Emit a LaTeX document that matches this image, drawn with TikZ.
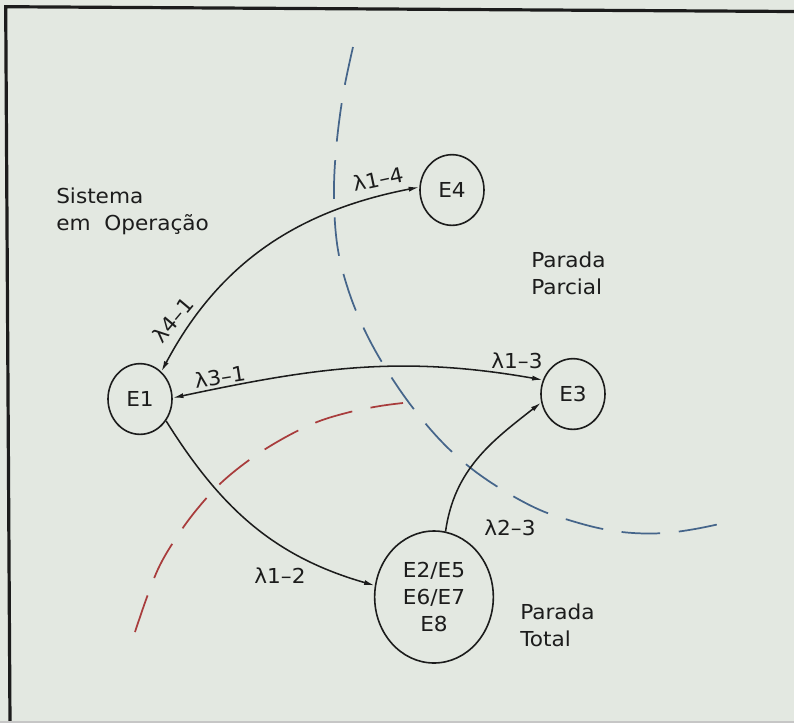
\documentclass[tikz,border=0pt]{standalone}
\usepackage{fontspec}
\setmainfont{DejaVu Sans}[FakeStretch=1.05]
\usepackage{tikz}
\usetikzlibrary{arrows.meta, shapes.geometric}
\definecolor{paper}{HTML}{E3E8E1}
\definecolor{ink}{HTML}{1C1C1C}
\definecolor{bblue}{HTML}{45658A}
\definecolor{bred}{HTML}{A83C3C}
\newcommand\figfont{\fontsize{15.5}{20.5}\selectfont}
\tikzset{
  x=0.75bp, y=0.75bp,
  font=\figfont,
  state/.style={
    draw=ink, line width=1.2bp, shape=ellipse, inner sep=0pt,
    minimum width=48bp, minimum height=53bp, text=ink, font=\figfont
  },
  bigstate/.style={
    state, minimum width=89bp, minimum height=99bp, align=center
  },
  rate/.style={font=\figfont, text=ink, inner sep=0pt},
  zone/.style={font=\figfont, text=ink, inner sep=0pt, align=left, anchor=west},
  oneway/.style={draw=ink, line width=1.15bp, -{Latex[length=8bp,width=3.8bp]}},
  twoway/.style={draw=ink, line width=1.15bp,
    {Latex[length=8bp,width=3.8bp]}-{Latex[length=8bp,width=3.8bp]}},
  limit/.style={draw=#1, line width=1.3bp, dash pattern=on 29bp off 14bp},
  limit/.default=bblue
}

\begin{document}
\begin{tikzpicture}
  \useasboundingbox (0,0) rectangle (794,-723);
  \fill[paper] (0,0) rectangle (794,-723);
  % sheet frame (photo is a little skewed)
  \draw[ink, line width=2.4bp] (10,-723) -- (5.7,-6.7) -- (794,-11.5);
  \draw[gray!45, line width=1.5bp] (0,-721.5) -- (794,-721.5);

  % zone boundaries
  \draw[limit=bblue] plot[smooth, tension=0.6] coordinates {
    (353,-47) (343,-95) (336,-150) (334,-200) (338,-250) (350,-295)
    (367,-335) (388,-372) (413,-408) (442,-442) (472,-469) (506,-492)
    (540,-510) (572,-521) (603,-529) (633,-533) (665,-533) (695,-529) (724,-523)};
  \draw[limit=bred] plot[smooth, tension=0.6] coordinates {
    (135,-632) (147,-597) (160,-565) (178,-535) (198,-508) (222,-482)
    (252,-458) (284,-438) (317,-422) (350,-412) (380,-406) (403,-403)};

  % states
  \node[state] (E1) at (140,-399) {E1};
  \node[state] (E4) at (452,-190) {E4};
  \node[state] (E3) at (573,-394) {E3};
  \node[bigstate] (E2) at (434,-597) {E2/E5\\E6/E7\\E8};

  % transitions
  \draw[twoway] (E1.52) to[out=62, in=191] (E4.175);
  \draw[twoway] (E1.2) to[out=12, in=170] (E3.155);
  \draw[oneway] (E1.-40) to[out=-58, in=164] (E2.169);
  \draw[oneway] (E2.80) to[out=82, in=218] (E3.195);

  \node[rate, rotate=12] (l14) at (378,-179) {λ1–4};
  \node[rate, rotate=50] (l41) at (173,-320) {λ4–1};
  \node[rate, rotate=9] (l31) at (220,-377) {λ3–1};
  \node[rate] (l13) at (517,-361) {λ1–3};
  \node[rate] (l12) at (280,-576) {λ1–2};
  \node[rate] (l23) at (510,-528) {λ2–3};

  % zone names
  \node[zone] (op) at (56,-211) {Sistema\\em~ Operação};
  \node[zone] (parc) at (531,-273) {Parada\\Parcial};
  \node[zone] (tot) at (520,-625) {Parada\\Total};
\end{tikzpicture}
\end{document}
